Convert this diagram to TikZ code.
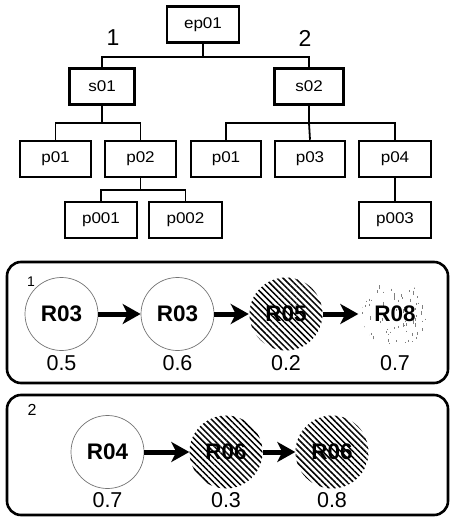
\documentclass[tikz,border=0pt]{standalone}
\usepackage{fontspec}
\setmainfont{Liberation Sans}
\newfontfamily\widesans[FakeStretch=1.1]{Liberation Sans}
\usetikzlibrary{arrows.meta,patterns.meta}
\begin{document}
\begin{tikzpicture}[x=1pt,y=-1pt,
 tbox/.style={draw,line width=2.5pt,minimum height=36pt,inner sep=0pt,font=\widesans\fontsize{15.5}{15.5}\selectfont},
 conn/.style={line width=1.8pt},
 bigl/.style={font=\fontsize{23}{23}\selectfont},
 rcirc/.style={circle,minimum size=73pt,inner sep=0pt,font=\bfseries\fontsize{22.5}{22.5}\selectfont},
 plainc/.style={rcirc,draw=black!55,line width=0.7pt},
 hatchc/.style={rcirc,pattern={Lines[angle=-45,distance=4.3pt,line width=1.5pt]}},
 speckc/.style={rcirc},
 rtext/.style={font=\bfseries\fontsize{22.5}{22.5}\selectfont},
 val/.style={font=\fontsize{21.5}{21.5}\selectfont},
 flow/.style={line width=5pt,-{Stealth[length=18pt,width=20pt,inset=5pt]}},
 panel/.style={draw,line width=2.6pt,rounded corners=14pt},
 speck/.style={line width=0.8pt,black!50},
]
\useasboundingbox (0,0) rectangle (452,518);
% tree
\node[tbox,minimum width=72pt] (ep01) at (203,24.5) {ep01};
\node[tbox,minimum width=65pt] (s01) at (102,86.5) {s01};
\node[tbox,minimum width=69pt] (s02) at (309,86.5) {s02};
\node[tbox,minimum width=71pt] (p01a) at (55.5,159) {p01};
\node[tbox,minimum width=71pt] (p02) at (140.5,159) {p02};
\node[tbox,minimum width=70pt] (p01b) at (226,159) {p01};
\node[tbox,minimum width=70pt] (p03) at (310,159) {p03};
\node[tbox,minimum width=72pt] (p04) at (395,159) {p04};
\node[tbox,minimum width=72pt] (p001) at (101,220) {p001};
\node[tbox,minimum width=73pt] (p002) at (185.5,220) {p002};
\node[tbox,minimum width=72pt] (p003) at (395,220) {p003};
\node[bigl] (lab1) at (113,38) {1};
\node[bigl] (lab2) at (305,38) {2};
\coordinate (b1) at (0,57);
\coordinate (b2) at (0,123);
\coordinate (b3) at (0,190);
\draw[conn] (ep01.south) -- (ep01.south |- b1) -| (s01.north);
\draw[conn] (ep01.south |- b1) -| (s02.north);
\draw[conn] (s01.south) -- (s01.south |- b2) -| (p01a.north);
\draw[conn] (s01.south |- b2) -| (p02.north);
\draw[conn] (s02.south) -- (s02.south |- b2) -| (p01b.north);
\draw[conn] (s02.south |- b2) -| (p04.north);
\draw[conn] (s02.south |- b2) -- (p03.north);
\draw[conn] (p02.south) -- (p02.south |- b3) -| (p001.north);
\draw[conn] (p02.south |- b3) -| (p002.north);
\draw[conn] (p04.south) -- (p003.north);
% panel 1
\draw[panel] (7,262) rectangle (448,383);
\node[font=\fontsize{14}{14}\selectfont] (pl1) at (31,282) {1};
\node[plainc] (a1) at (61.5,314) {};
\node[plainc] (a2) at (177.5,314) {};
\node[hatchc] (a3) at (286,314) {};
\node[speckc] (a4) at (395,314) {};
\begin{scope}
  \clip (a4) circle (33pt);
  \pgfmathsetseed{11}
  \foreach \i in {1,...,85} {
    \pgfmathsetmacro{\sx}{395+33*rand}
    \pgfmathsetmacro{\sy}{314+33*rand}
    \pgfmathsetmacro{\sl}{1+3*rnd}
    \draw[speck] (\sx,\sy) -- ++(0,\sl);
  }
\end{scope}
\node[rtext] (t1) at (a1) {R03};
\node[rtext] (t2) at (a2) {R03};
\node[rtext] (t3) at (a3) {R05};
\node[rtext] (t4) at (a4) {R08};
\node[val] (v1) at (61.5,363) {0.5};
\node[val] (v2) at (177.5,363) {0.6};
\node[val] (v3) at (286,363) {0.2};
\node[val] (v4) at (395,363) {0.7};
\draw[flow] (a1) -- (a2);
\draw[flow] (a2) -- (a3);
\draw[flow] (a3) -- (a4);
% panel 2
\draw[panel] (7,395) rectangle (448,515);
\node[font=\fontsize{16}{16}\selectfont] (pl2) at (32,410) {2};
\node[plainc] (c1) at (107.5,452) {R04};
\node[hatchc] (c2) at (226,452) {R06};
\node[hatchc] (c3) at (332,452) {R06};
\node[val] (w1) at (107.5,500) {0.7};
\node[val] (w2) at (226,500) {0.3};
\node[val] (w3) at (332,500) {0.8};
\draw[flow] (c1) -- (c2);
\draw[flow] (c2) -- (c3);
\end{tikzpicture}
\end{document}
